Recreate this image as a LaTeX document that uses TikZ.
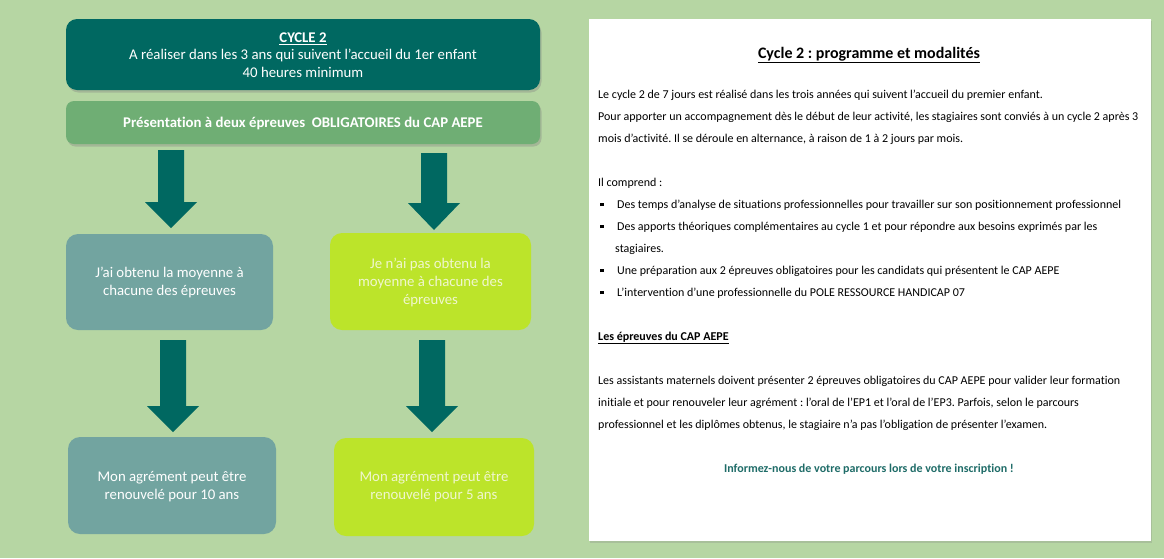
\documentclass[tikz,border=0pt]{standalone}
\usepackage{fontspec}
\setmainfont{Carlito}[Ligatures=NoCommon]
\frenchspacing
\usetikzlibrary{shadows}
\definecolor{bgc}{RGB}{182,214,163}
\definecolor{teal}{RGB}{0,104,97}
\definecolor{greenbox}{RGB}{111,174,116}
\definecolor{greyteal}{RGB}{114,164,160}
\definecolor{lime}{RGB}{188,228,42}
\definecolor{limetxt}{RGB}{240,246,206}
\definecolor{infocol}{RGB}{31,108,104}
\newcommand{\blockarrow}[5]{% name, x center, y top, y head, y tip
  \fill[teal] (#2-13,#3) -- (#2+13,#3) -- (#2+13,#4) -- (#2+26,#4) -- (#2,#5) -- (#2-26,#4) -- (#2-13,#4) -- cycle;
  \coordinate (#1) at (#2,#5);}
\newcommand{\sqbul}{\raisebox{2pt}{\rule{3.5pt}{3.5pt}}\hspace{13.5pt}}
\begin{document}
\begin{tikzpicture}[x=1pt,y=-1pt,
  box/.style={rounded corners=11pt, inner sep=0pt, align=center, font=\fontsize{14.8}{18}\selectfont},
  shad/.style={drop shadow={opacity=0.35,shadow xshift=1.5pt,shadow yshift=-2.5pt}},
  body/.style={anchor=base west, inner sep=0pt, font=\fontsize{12}{14}\selectfont},
]
\useasboundingbox (0,0) rectangle (1164,558);
\fill[bgc] (0,0) rectangle (1164,558);

% left flow
\path[fill=teal, shad, rounded corners=11pt] (66,19) rectangle (540,90);
\node[box, text=white, font=\fontsize{14.8}{17.5}\selectfont] (cycle) at (303,55) {\underline{\textbf{CYCLE 2}}\\A réaliser dans les 3 ans qui suivent l'accueil du 1er enfant\\40 heures minimum};
\path[fill=greenbox, shad, rounded corners=8pt] (66,101) rectangle (540,144);
\node[box, text=white, font=\bfseries\fontsize{14.8}{17}\selectfont] (pres) at (303,123) {Présentation à deux épreuves\ \ OBLIGATOIRES du CAP AEPE};

\fill[greyteal, rounded corners=12pt] (66,234) rectangle (273,330);
\node[box, text=white] (oui) at (169.5,282) {J'ai obtenu la moyenne à\\chacune des épreuves};
\fill[lime, rounded corners=12pt] (330,233) rectangle (531,330);
\node[box, text=limetxt] (non) at (430.5,282) {Je n'ai pas obtenu la\\moyenne à chacune des\\épreuves};

\fill[greyteal, rounded corners=12pt] (68,437) rectangle (276,534);
\node[box, text=white] (dix) at (172,487) {Mon agrément peut être\\renouvelé pour 10 ans};
\fill[lime, rounded corners=12pt] (334,438) rectangle (534,536);
\node[box, text=limetxt] (cinq) at (434,487) {Mon agrément peut être\\renouvelé pour 5 ans};

\blockarrow{a1}{171}{150}{202}{228}
\blockarrow{a2}{434}{153}{203}{230}
\blockarrow{a3}{173}{340}{406}{432}
\blockarrow{a4}{432}{340}{406}{432}

% right panel
\path[fill=white, drop shadow={opacity=0.25,shadow xshift=1pt,shadow yshift=-1.5pt}] (589,19) rectangle (1151,541);
\node[anchor=base, inner sep=0pt, font=\bfseries\fontsize{16}{18}\selectfont] (title) at (869,58) {\underline{Cycle 2 : programme et modalités}};
\node[body] (p1) at (598,98) {Le cycle 2 de 7 jours est réalisé dans les trois années qui suivent l’accueil du premier enfant.};
\node[body] (p2) at (598,120) {Pour apporter un accompagnement dès le début de leur activité, les stagiaires sont conviés à un cycle 2 après 3};
\node[body] (p3) at (598,142) {mois d’activité. Il se déroule en alternance, à raison de 1 à 2 jours par mois.};
\node[body] (p4) at (598,186) {Il comprend :};
\node[body] (b1) at (600,208) {\sqbul Des temps d'analyse de situations professionnelles pour travailler sur son positionnement professionnel};
\node[body] (b2) at (600,230) {\sqbul Des apports théoriques complémentaires au cycle 1 et pour répondre aux besoins exprimés par les};
\node[body] (b2b) at (615,252) {stagiaires.};
\node[body] (b3) at (600,274) {\sqbul Une préparation aux 2 épreuves obligatoires pour les candidats qui présentent le CAP AEPE};
\node[body] (b4) at (600,296) {\sqbul L’intervention d’une professionnelle du POLE RESSOURCE HANDICAP 07};
\node[body, font=\bfseries\fontsize{12}{14}\selectfont] (h2) at (598,340) {\underline{Les épreuves du CAP AEPE}};
\node[body] (q1) at (598,384) {Les assistants maternels doivent présenter 2 épreuves obligatoires du CAP AEPE pour valider leur formation};
\node[body] (q2) at (598,406) {initiale et pour renouveler leur agrément : l’oral de l’EP1 et l’oral de l’EP3. Parfois, selon le parcours};
\node[body] (q3) at (598,428) {professionnel et les diplômes obtenus, le stagiaire n’a pas l’obligation de présenter l’examen.};
\node[anchor=base, inner sep=0pt, text=infocol, font=\bfseries\fontsize{12}{14}\selectfont] (info) at (869,472) {Informez-nous de votre parcours lors de votre inscription !};
\end{tikzpicture}
\end{document}
